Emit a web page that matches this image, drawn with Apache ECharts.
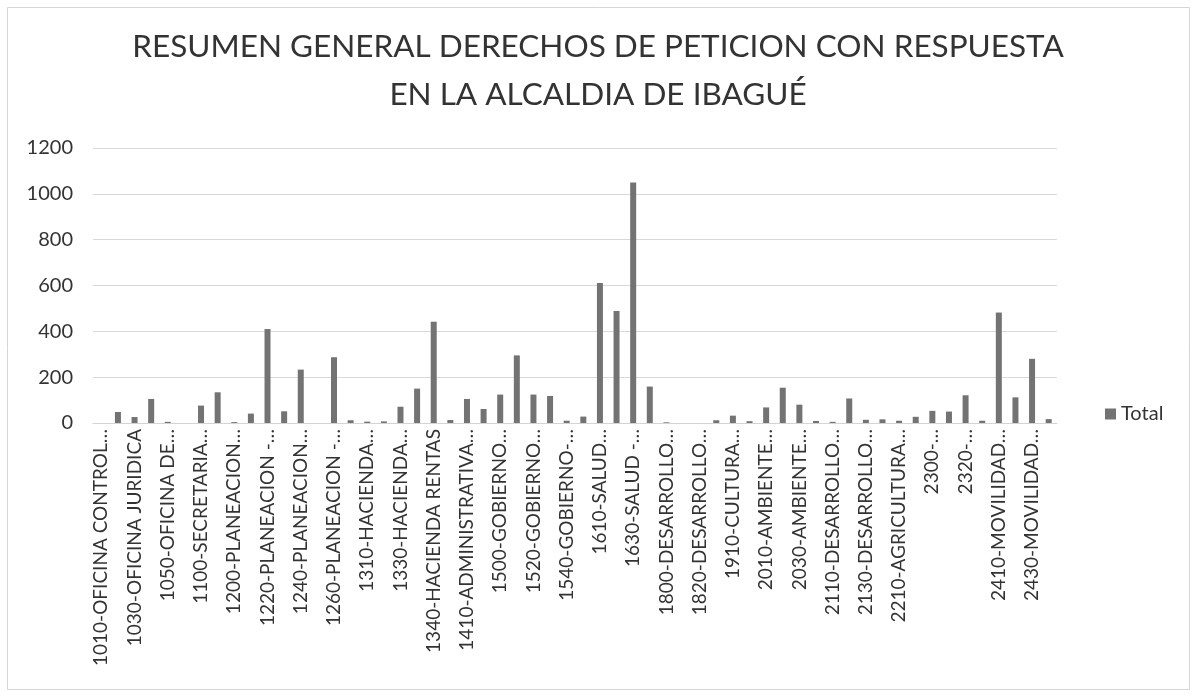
<!DOCTYPE html>
<html>
<head>
<meta charset="utf-8">
<title>Resumen derechos de peticion</title>
<script src="https://cdn.jsdelivr.net/npm/echarts@6/dist/echarts.min.js"></script>
<style>
  html, body { margin: 0; padding: 0; background: #fff; }
  #chart { width: 1196px; height: 697px; }
</style>
</head>
<body>
<div id="chart"></div>
<script>
// dependencias (solo las pares se ven en el eje, como en el original)
var dependencias = [
  '1010-OFICINA CONTROL…', '1020-OFICINA…', '1030-OFICINA JURIDICA', '1040-OFICINA…',
  '1050-OFICINA DE…', '1060-OFICINA…', '1100-SECRETARIA…', '1110-SECRETARIA…',
  '1200-PLANEACION…', '1210-PLANEACION…', '1220-PLANEACION -…', '1230-PLANEACION…',
  '1240-PLANEACION…', '1250-PLANEACION…', '1260-PLANEACION -…', '1300-HACIENDA…',
  '1310-HACIENDA…', '1320-HACIENDA…', '1330-HACIENDA…', '1335-HACIENDA…',
  '1340-HACIENDA RENTAS', '1400-ADMINISTRATIVA…', '1410-ADMINISTRATIVA…', '1420-ADMINISTRATIVA…',
  '1500-GOBIERNO…', '1510-GOBIERNO…', '1520-GOBIERNO…', '1530-GOBIERNO…',
  '1540-GOBIERNO-…', '1600-SALUD…', '1610-SALUD…', '1620-SALUD…',
  '1630-SALUD -…', '1700-EDUCACION…', '1800-DESARROLLO…', '1810-DESARROLLO…',
  '1820-DESARROLLO…', '1900-CULTURA…', '1910-CULTURA…', '2000-AMBIENTE…',
  '2010-AMBIENTE…', '2020-AMBIENTE…', '2030-AMBIENTE…', '2100-DESARROLLO…',
  '2110-DESARROLLO…', '2120-DESARROLLO…', '2130-DESARROLLO…', '2200-AGRICULTURA…',
  '2210-AGRICULTURA…', '2220-AGRICULTURA…', '2300-…', '2310-…',
  '2320-…', '2400-MOVILIDAD…', '2410-MOVILIDAD…', '2420-MOVILIDAD…',
  '2430-MOVILIDAD…', '2440-MOVILIDAD…'
];
var totales = [
  0, 48, 26, 105, 5, 0, 76, 134, 4, 41,
  410, 51, 233, 0, 287, 12, 6, 7, 71, 150,
  442, 13, 105, 61, 124, 295, 124, 118, 10, 28,
  611, 489, 1050, 159, 3, 0, 0, 12, 32, 8,
  68, 154, 80, 9, 5, 107, 14, 16, 10, 27,
  53, 50, 121, 10, 482, 112, 280, 17
];
var ticksY = [0, 200, 400, 600, 800, 1000, 1200];

var fuente = 'Lato';
var gris = '#333333';

var option = {
  backgroundColor: '#ffffff',
  animation: false,
  title: {
    text: 'RESUMEN GENERAL DERECHOS DE PETICION CON RESPUESTA\nEN LA ALCALDIA DE IBAGUÉ',
    left: 'center',
    top: 23,
    padding: 0,
    textStyle: {
      fontFamily: fuente,
      fontSize: 31.5,
      fontWeight: 'normal',
      lineHeight: 48,
      color: gris
    }
  },
  legend: {
    data: ['Total'],
    left: 1100,
    top: 399,
    itemWidth: 11,
    itemHeight: 11,
    itemGap: 6,
    icon: 'rect',
    textStyle: { fontFamily: fuente, fontSize: 20, color: gris }
  },
  grid: {
    left: 93,
    right: 139,
    top: 148,
    bottom: 274,
    containLabel: false
  },
  xAxis: {
    type: 'category',
    data: dependencias,
    axisLine: { lineStyle: { color: '#d4d4d4', width: 1 } },
    axisTick: { show: false },
    axisLabel: {
      interval: 1,
      rotate: 90,
      margin: 6,
      fontFamily: fuente,
      fontSize: 19,
      color: gris
    }
  },
  yAxis: {
    type: 'value',
    min: ticksY[0],
    max: ticksY[ticksY.length - 1],
    interval: ticksY[1] - ticksY[0],
    axisLine: { show: false },
    axisTick: { show: false },
    splitLine: { lineStyle: { color: '#d9d9d9', width: 1 } },
    axisLabel: {
      margin: 20,
      fontFamily: fuente,
      fontSize: 20,
      color: gris,
      formatter: function (value) {
        return value + ''
      }
    }
  },
  series: [
    {
      name: 'Total',
      type: 'bar',
      barWidth: 6,
      data: totales,
      itemStyle: { color: '#737373' }
    }
  ],
  graphic: [
    {
      type: 'rect',
      shape: { x: 7.5, y: 7.5, width: 1182, height: 682 },
      style: { fill: null, stroke: '#d6d6d6', lineWidth: 1 },
      silent: true
    }
  ]
};

var chart = echarts.init(document.getElementById('chart'));
chart.setOption(option);
</script>
</body>
</html>
